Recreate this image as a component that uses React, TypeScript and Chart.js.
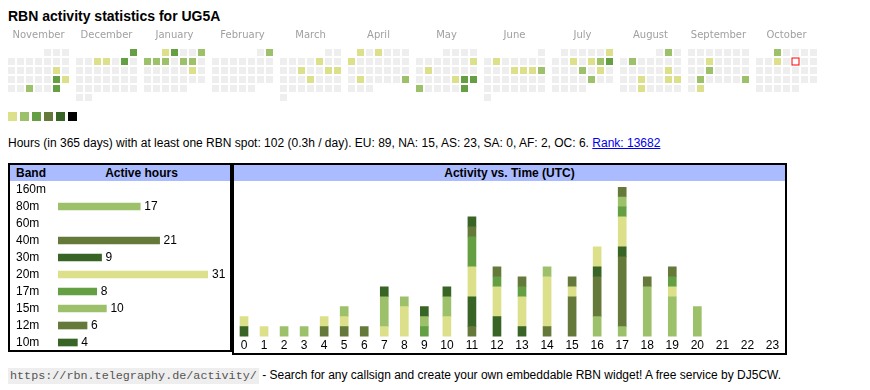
import React, { useEffect, useRef } from 'react';
import { Chart, registerables } from 'chart.js';

Chart.register(...registerables);
Chart.defaults.font.family = "'Liberation Sans', Arial, sans-serif";

// ---------- DATA ----------
const titleText = 'RBN activity statistics for UG5A';
const monthNames = ['November', 'December', 'January', 'February', 'March', 'April', 'May', 'June', 'July', 'August', 'September', 'October'];
const monthStarts: [number, number][] = [[2024, 10], [2024, 11], [2025, 0], [2025, 1], [2025, 2], [2025, 3], [2025, 4], [2025, 5], [2025, 6], [2025, 7], [2025, 8], [2025, 9]];
const levelColors = ['#eeeeee', '#dce08a', '#9dc16b', '#64a043', '#657a3a', '#386526', '#000000'];
const activeDays: [string, number][] = [
  ['2024-11-16', 1], ['2024-11-23', 3], ['2024-11-24', 1], ['2024-11-27', 2], ['2024-11-30', 3],
  ['2024-12-01', 3], ['2024-12-04', 1], ['2024-12-05', 1], ['2024-12-07', 3],
  ['2025-01-01', 1], ['2025-01-02', 3], ['2025-01-05', 2], ['2025-01-06', 2], ['2025-01-07', 2], ['2025-01-08', 2], ['2025-01-10', 2], ['2025-01-11', 2], ['2025-01-18', 1],
  ['2025-02-02', 2],
  ['2025-03-07', 1], ['2025-03-12', 1], ['2025-03-15', 1], ['2025-03-16', 1], ['2025-03-20', 1],
  ['2025-04-01', 1], ['2025-04-03', 1], ['2025-04-07', 1], ['2025-04-22', 1], ['2025-04-27', 2],
  ['2025-05-11', 1], ['2025-05-13', 1], ['2025-05-23', 1], ['2025-05-24', 3], ['2025-05-25', 3], ['2025-05-26', 2], ['2025-05-31', 3],
  ['2025-06-03', 1], ['2025-06-12', 1], ['2025-06-13', 1], ['2025-06-14', 1], ['2025-06-15', 2],
  ['2025-07-06', 1], ['2025-07-09', 1], ['2025-07-11', 1], ['2025-07-12', 2], ['2025-07-13', 3], ['2025-07-17', 2], ['2025-07-19', 1], ['2025-07-25', 2],
  ['2025-08-02', 2], ['2025-08-05', 2], ['2025-08-16', 1], ['2025-08-20', 1], ['2025-08-23', 1], ['2025-08-24', 1], ['2025-08-27', 1],
  ['2025-09-10', 1], ['2025-09-17', 2], ['2025-09-23', 2], ['2025-09-28', 2], ['2025-09-30', 1],
  ['2025-10-01', 2], ['2025-10-08', 1],
];
const todayDate = '2025-10-10';

const bands = ['160m', '80m', '60m', '40m', '30m', '20m', '17m', '15m', '12m', '10m'];
const bandHours = [0, 17, 0, 21, 9, 31, 8, 10, 6, 4];
const bandColors = ['#64a043', '#9dc16b', '#dce08a', '#657a3a', '#386526', '#dce08a', '#64a043', '#9dc16b', '#657a3a', '#386526'];

const hourLabels = ['0', '1', '2', '3', '4', '5', '6', '7', '8', '9', '10', '11', '12', '13', '14', '15', '16', '17', '18', '19', '20', '21', '22', '23'];
const hours160m = [0, 0, 0, 0, 0, 0, 0, 0, 0, 0, 0, 0, 0, 0, 0, 0, 0, 0, 0, 0, 0, 0, 0, 0];
const hours80m = [0, 0, 1, 1, 0, 0, 0, 0, 0, 0, 0, 0, 0, 0, 0, 0, 2, 1, 5, 4, 3, 0, 0, 0];
const hours60m = [0, 0, 0, 0, 0, 0, 0, 0, 0, 0, 0, 0, 0, 0, 0, 0, 0, 0, 0, 0, 0, 0, 0, 0];
const hours40m = [0, 0, 0, 0, 1, 1, 1, 0, 0, 0, 0, 1, 0, 0, 1, 4, 4, 7, 1, 0, 0, 0, 0, 0];
const hours30m = [1, 0, 0, 0, 0, 0, 0, 0, 0, 0, 0, 3, 2, 1, 0, 0, 1, 1, 0, 0, 0, 0, 0, 0];
const hours20m = [1, 1, 0, 0, 1, 1, 0, 1, 3, 0, 2, 3, 3, 3, 5, 1, 2, 3, 0, 1, 0, 0, 0, 0];
const hours17m = [0, 0, 0, 0, 0, 0, 0, 0, 0, 1, 0, 3, 1, 1, 0, 0, 0, 1, 0, 1, 0, 0, 0, 0];
const hours15m = [0, 0, 0, 0, 0, 1, 0, 3, 1, 1, 2, 0, 0, 0, 1, 0, 0, 1, 0, 0, 0, 0, 0, 0];
const hours12m = [0, 0, 0, 0, 0, 0, 0, 0, 0, 0, 0, 1, 1, 1, 0, 1, 0, 1, 0, 1, 0, 0, 0, 0];
const hours10m = [0, 0, 0, 0, 0, 0, 0, 1, 0, 1, 1, 1, 0, 0, 0, 0, 0, 0, 0, 0, 0, 0, 0, 0];
const hoursByBand = [hours160m, hours80m, hours60m, hours40m, hours30m, hours20m, hours17m, hours15m, hours12m, hours10m];

// ---------- LAYOUT ----------
const FONT = "'Liberation Sans', Arial, sans-serif";
const CELL = 9; // px per calendar cell unit
const BLOCK = 68 / CELL; // month block pitch in cell units

function pad2(n: number) { return String(n).padStart(2, '0'); }

function buildCalendar() {
  const levelMap = new Map(activeDays);
  const cells: { x: number; y: number; level: number; key: string }[] = [];
  monthStarts.forEach(([yr, mo], m) => {
    const wd = (new Date(Date.UTC(yr, mo, 1)).getUTCDay() + 6) % 7;
    const nDays = new Date(Date.UTC(yr, mo + 1, 0)).getUTCDate();
    for (let d = 1; d <= nDays; d++) {
      const idx = wd + d - 1;
      const key = `${yr}-${pad2(mo + 1)}-${pad2(d)}`;
      cells.push({ x: m * BLOCK + (idx % 7), y: Math.floor(idx / 7), level: levelMap.get(key) ?? 0, key });
    }
  });
  return cells;
}

function useChart(factory: (canvas: HTMLCanvasElement) => Chart) {
  const ref = useRef<HTMLCanvasElement | null>(null);
  useEffect(() => {
    if (!ref.current) return;
    const chart = factory(ref.current);
    return () => chart.destroy();
  }, []);
  return ref;
}

const noPad = (s: any) => { s.paddingTop = 0; s.paddingBottom = 0; s.paddingLeft = 0; s.paddingRight = 0; };

function CalendarChart() {
  const ref = useChart((canvas) => {
    const cells = buildCalendar();
    const today = cells.filter((c) => c.key === todayDate);
    const legendLevels = levelColors.slice(1);
    const xMin = -11.5 / CELL;
    const yMin = -9.5 / CELL;
    return new Chart(canvas, {
      type: 'scatter',
      data: {
        datasets: [
          {
            order: 4,
            data: cells.map((c) => ({ x: c.x, y: c.y })),
            pointStyle: 'rect',
            pointRadius: 3.5 / Math.SQRT1_2,
            pointBorderWidth: 0,
            pointBackgroundColor: cells.map((c) => levelColors[c.level]),
          },
          {
            order: 2,
            data: today.map((c) => ({ x: c.x, y: c.y })),
            pointStyle: 'rect',
            pointRadius: 4 / Math.SQRT1_2,
            pointBorderWidth: 0,
            pointBackgroundColor: '#ff0000',
          },
          {
            order: 1,
            data: today.map((c) => ({ x: c.x, y: c.y })),
            pointStyle: 'rect',
            pointRadius: 3 / Math.SQRT1_2,
            pointBorderWidth: 0,
            pointBackgroundColor: '#ffffff',
          },
          {
            order: 0,
            data: legendLevels.map((_, i) => ({ x: 0.11 + (i * 4) / 3, y: 7.11 })),
            pointStyle: 'rect',
            pointRadius: 4.5 / Math.SQRT1_2,
            pointBorderWidth: 0,
            pointBackgroundColor: legendLevels,
          },
        ],
      },
      options: {
        responsive: false,
        animation: false,
        events: [],
        layout: { autoPadding: false, padding: 0 },
        plugins: { legend: { display: false }, tooltip: { enabled: false } },
        scales: {
          x: {
            type: 'linear',
            position: 'top',
            min: xMin,
            max: xMin + 870 / CELL,
            afterBuildTicks: (s: any) => { s.ticks = monthNames.map((_, m) => ({ value: m * BLOCK + 3 })); },
            afterFit: (s: any) => { s.height = 18; noPad(s); },
            grid: { display: false, drawTicks: false },
            border: { display: false },
            ticks: {
              autoSkip: false,
              maxRotation: 0,
              padding: 2,
              color: '#a0a0a0',
              font: { family: "'DejaVu Sans', Verdana, sans-serif", size: 10 },
              callback: (_v: any, i: number) => monthNames[i],
            },
          },
          y: {
            type: 'linear',
            reverse: true,
            min: yMin,
            max: yMin + 82 / CELL,
            display: false,
          },
        },
      },
    } as any);
  });
  return <canvas ref={ref} width={870} height={100} style={{ position: 'absolute', left: 0, top: 25, display: 'block' }} />;
}

const valueLabelPlugin = {
  id: 'valueLabels',
  afterDatasetsDraw(chart: any) {
    const ctx = chart.ctx;
    ctx.save();
    ctx.font = `12px ${FONT}`;
    ctx.fillStyle = '#000';
    ctx.textBaseline = 'middle';
    ctx.textAlign = 'left';
    chart.getDatasetMeta(0).data.forEach((bar: any, i: number) => {
      if (bandHours[i] > 0) ctx.fillText(String(bandHours[i]), bar.x + 4, bar.y + 0.5);
    });
    ctx.restore();
  },
};

function BandChart() {
  const ref = useChart((canvas) => new Chart(canvas, {
    type: 'bar',
    data: {
      labels: bands,
      datasets: [{ data: bandHours.map((v) => (v > 0 ? v : null)), backgroundColor: bandColors, barThickness: 7, borderWidth: 0 }],
    },
    options: {
      indexAxis: 'y',
      responsive: false,
      animation: false,
      events: [],
      layout: { autoPadding: false, padding: { left: 6, right: 22, top: 0, bottom: 0 } },
      plugins: { legend: { display: false }, tooltip: { enabled: false } },
      scales: {
        x: { display: false, min: 0, max: Math.max(...bandHours) },
        y: {
          grid: { display: false, drawTicks: false },
          border: { display: false },
          ticks: { crossAlign: 'far', autoSkip: false, color: '#000', padding: 0, font: { size: 12 } },
          afterFit: (s: any) => { s.width = 42; noPad(s); },
        },
      },
    },
    plugins: [valueLabelPlugin],
  } as any));
  return <canvas ref={ref} width={220} height={170} style={{ position: 'absolute', left: 10, top: 181, display: 'block' }} />;
}

function HourChart() {
  const ref = useChart((canvas) => {
    const widths = hourLabels.map((l) => 15 + 5 * l.length);
    const centers: number[] = [];
    let acc = 0;
    widths.forEach((w) => { centers.push(acc + w / 2); acc += w; });
    const totals = hourLabels.map((_, h) => hoursByBand.reduce((s, arr) => s + arr[h], 0));
    return new Chart(canvas, {
      type: 'bar',
      data: {
        datasets: bands.map((b, k) => ({
          label: b,
          data: hoursByBand[k].map((v, h) => ({ x: centers[h], y: v > 0 ? v : null })),
          backgroundColor: bandColors[k],
          barThickness: 8,
          borderWidth: 0,
        })),
      },
      options: {
        responsive: false,
        animation: false,
        events: [],
        layout: { autoPadding: false, padding: { top: 6, left: 0, right: 0, bottom: 0 } },
        plugins: { legend: { display: false }, tooltip: { enabled: false } },
        scales: {
          x: {
            type: 'linear',
            stacked: true,
            offset: false,
            min: 0,
            max: acc,
            afterBuildTicks: (s: any) => { s.ticks = centers.map((v) => ({ value: v })); },
            afterFit: (s: any) => { s.height = 16.4; noPad(s); },
            grid: { display: false, drawTicks: false },
            border: { display: false },
            ticks: {
              autoSkip: false,
              maxRotation: 0,
              padding: 2,
              color: '#000',
              font: { size: 12 },
              callback: (_v: any, i: number) => hourLabels[i],
            },
          },
          y: { stacked: true, min: 0, max: Math.max(...totals), display: false },
        },
      },
    } as any);
  });
  return <canvas ref={ref} width={551} height={172} style={{ position: 'absolute', left: 234, top: 181, display: 'block' }} />;
}

export default function App() {
  const base: React.CSSProperties = { position: 'absolute', fontFamily: FONT, color: '#000', whiteSpace: 'nowrap' };
  return (
    <div style={{ position: 'absolute', left: 0, top: 0, width: 870, height: 390, background: '#fff', overflow: 'hidden' }}>
      <div style={{ ...base, left: 8, top: 8, fontSize: 14, lineHeight: '16px', fontWeight: 'bold' }}>{titleText}</div>
      <CalendarChart />
      <div style={{ ...base, left: 8, top: 136, fontSize: 12, lineHeight: '14px' }}>
        Hours (in 365 days) with at least one RBN spot: 102 (0.3h / day). EU: 89, NA: 15, AS: 23, SA: 0, AF: 2, OC: 6.{' '}
        <a href="#" style={{ color: '#0000ee', textDecoration: 'underline' }}>Rank: 13682</a>
      </div>

      <div style={{ position: 'absolute', left: 8, top: 163, width: 224, height: 189, border: '2px solid #000', boxSizing: 'border-box' }} />
      <div style={{ position: 'absolute', left: 10, top: 165, width: 220, height: 16, background: '#aabbff' }} />
      <div style={{ ...base, left: 16, top: 165, fontSize: 12, lineHeight: '16px', fontWeight: 'bold' }}>Band</div>
      <div style={{ ...base, left: 53, top: 165, width: 177, textAlign: 'center', fontSize: 12, lineHeight: '16px', fontWeight: 'bold' }}>Active hours</div>
      <BandChart />

      <div style={{ position: 'absolute', left: 232, top: 163, width: 555, height: 192, border: '2px solid #000', boxSizing: 'border-box' }} />
      <div style={{ position: 'absolute', left: 234, top: 165, width: 551, height: 16, background: '#aabbff' }} />
      <div style={{ ...base, left: 234, top: 165, width: 551, textAlign: 'center', fontSize: 12, lineHeight: '16px', fontWeight: 'bold' }}>Activity vs. Time (UTC)</div>
      <HourChart />

      <div style={{ ...base, left: 8, top: 368, fontSize: 12, lineHeight: '15px' }}>
        <span style={{ background: '#eeeeee', color: '#555', fontFamily: "'Liberation Mono', 'Courier New', monospace", fontSize: 11.75, padding: '1px 2px' }}>https://rbn.telegraphy.de/activity/</span>
        {' '}- Search for any callsign and create your own embeddable RBN widget! A free service by DJ5CW.
      </div>
    </div>
  );
}
